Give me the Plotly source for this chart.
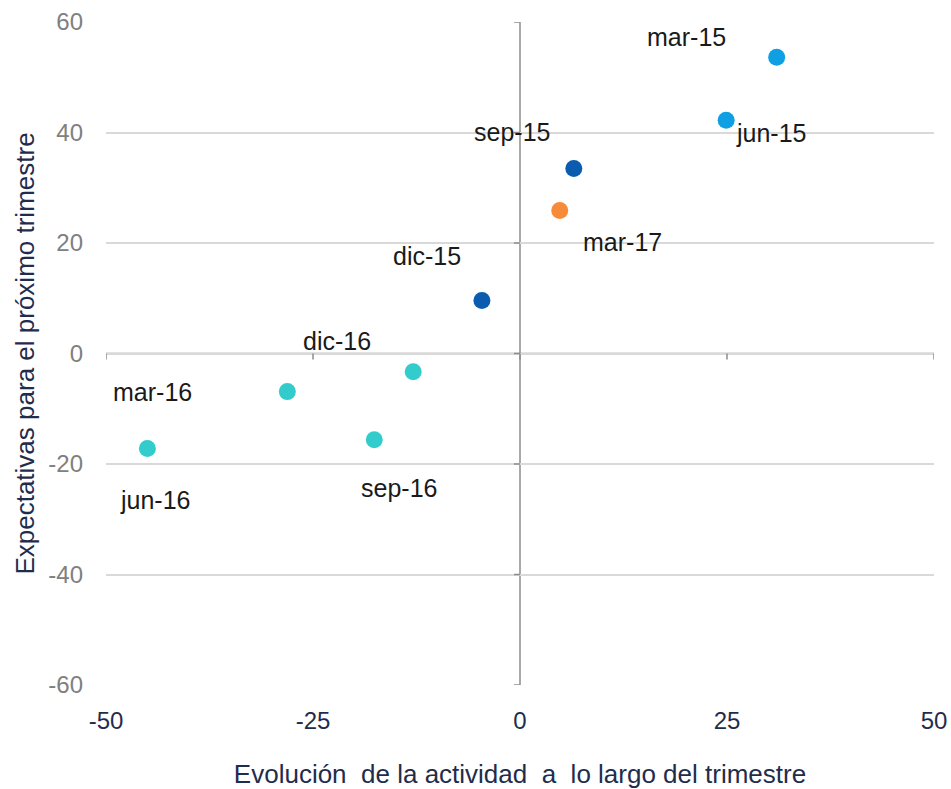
import plotly.graph_objects as go

labels = ["mar-15", "jun-15", "sep-15", "dic-15", "mar-16", "jun-16", "sep-16", "dic-16", "mar-17"]
actividad = [31.0, 24.9, 6.5, -4.6, -28.1, -45.0, -17.6, -12.9, 4.8]
expectativas = [53.6, 42.2, 33.5, 9.6, -6.9, -17.2, -15.6, -3.3, 25.9]
colors = ["#0EA0E2", "#0EA0E2", "#0B5BAE", "#0B5BAE", "#33CCCC", "#33CCCC", "#33CCCC", "#33CCCC", "#F68B3A"]
# label offsets in pixels (dx, dy; dy positive = up)
offsets = [(-90, 20), (45, -13), (-62, 36), (-55, 44), (-135, 0), (8, -51), (25, -48), (-76, 31), (63, -32)]

x_ticks = [-50, -25, 0, 25, 50]
x_ticktext = ["-50", "-25", "0", "25", "50"]
y_ticks = [-60, -40, -20, 0, 20, 40, 60]
y_ticktext = ["-60", "-40", "-20", "0", "20", "40", "60"]

FONT = "Liberation Sans, Arial, sans-serif"
NAVY = "#1F2D4D"

fig = go.Figure()
fig.add_trace(go.Scatter(
    x=actividad, y=expectativas, mode="markers",
    marker=dict(size=17, color=colors, line=dict(width=0)),
    hoverinfo="text", text=labels, showlegend=False,
))

for lab, xv, yv, (dx, dy) in zip(labels, actividad, expectativas, offsets):
    fig.add_annotation(x=xv, y=yv, text=lab, showarrow=False, xshift=dx, yshift=dy,
                       font=dict(family=FONT, size=25, color="#1a1a1a"))

# tick marks on the crossing axes
for t in x_ticks:
    fig.add_shape(type="line", xref="x", yref="paper", x0=t, x1=t,
                  y0=0.5, y1=0.5 - 6 / 663, line=dict(color="#8c8c8c", width=1.5))
for t in y_ticks:
    fig.add_shape(type="line", xref="paper", yref="y", x0=0.5, x1=0.5 - 6 / 828,
                  y0=t, y1=t, line=dict(color="#8c8c8c", width=1.5))

fig.update_layout(
    width=951, height=789,
    margin=dict(l=106, r=17, t=22, b=104, autoexpand=False),
    plot_bgcolor="white", paper_bgcolor="white",
    font=dict(family=FONT),
    xaxis=dict(range=[-50, 50], tickvals=x_ticks, ticktext=x_ticktext, showgrid=False,
               zeroline=False, automargin=False,
               showline=False, ticks="", ticklabelstandoff=19,
               tickfont=dict(family=FONT, size=24, color=NAVY),
               title=dict(text="Evolución  de la actividad  a  lo largo del trimestre",
                          font=dict(family=FONT, size=26, color=NAVY), standoff=32)),
    yaxis=dict(range=[-60, 60], tickvals=y_ticks, ticktext=y_ticktext, showgrid=True,
               gridcolor="#d9d9d9", gridwidth=1.5, automargin=False,
               zeroline=False, showline=False, ticks="", ticklabelstandoff=22,
               tickfont=dict(family=FONT, size=24, color="#808080"),
               title=dict(text="Expectativas para el próximo trimestre",
                          font=dict(family=FONT, size=26, color=NAVY), standoff=6)),
)
# crossing axis lines
fig.add_shape(type="line", xref="x", yref="paper", x0=0, x1=0, y0=0, y1=1,
              line=dict(color="#8c8c8c", width=1.5), layer="below")
fig.add_shape(type="line", xref="paper", yref="y", x0=0, x1=1, y0=0, y1=0,
              line=dict(color="#8c8c8c", width=1.5), layer="below")

fig.write_html("out.html", config={"displayModeBar": False},
               post_script="document.body.style.margin='0';document.body.style.overflow='hidden';")
